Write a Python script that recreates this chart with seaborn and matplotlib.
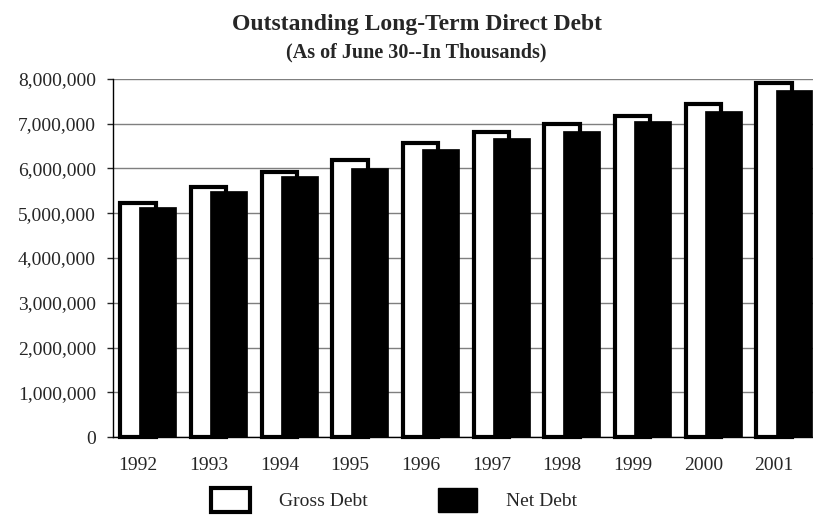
import pandas as pd
import matplotlib.pyplot as plt
import matplotlib.patheffects as pe
from matplotlib.patches import Patch
import seaborn as sns

# ===============================
# Dados
# ===============================
years = ["1992", "1993", "1994", "1995", "1996", "1997", "1998", "1999", "2000", "2001"]
gross_debt = [5230000, 5580000, 5930000, 6180000, 6580000, 6820000, 7000000, 7180000, 7450000, 7900000]
net_debt = [5130000, 5490000, 5840000, 6020000, 6440000, 6670000, 6840000, 7070000, 7290000, 7750000]

df = pd.DataFrame({"Year": years, "Gross": gross_debt, "Net": net_debt})

# ===============================
# Estilo
# ===============================
sns.set_style("white")
plt.rcParams['font.family'] = ['Liberation Serif', 'DejaVu Serif']

fig = plt.figure(figsize=(8.13, 5.23), dpi=100)
ax = fig.add_axes([0.1384, 0.1644, 0.8616, 0.6846])

# Barras brutas (contorno) e líquidas (preenchidas), sobrepostas
sns.barplot(data=df, x="Year", y="Gross", ax=ax, width=0.5, color="white",
            edgecolor="black", linewidth=3, errorbar=None, zorder=3)
n_gross = len(ax.patches)
sns.barplot(data=df, x="Year", y="Net", ax=ax, width=0.52, color="black",
            edgecolor="black", linewidth=0.5, errorbar=None, zorder=4)

for i, p in enumerate(ax.patches):
    p.set_clip_on(False)
    if i < n_gross:
        p.set_path_effects([pe.SimplePatchShadow(offset=(-1.5, -1.5), shadow_rgbFace="0.55", alpha=1),
                            pe.Normal()])
    else:
        p.set_x(p.get_x() + 0.28)

# ===============================
# Eixos
# ===============================
ax.set_ylim(0, 8000000)
ax.set_xlim(-0.36, 9.55)
ax.set_yticks(range(0, 8000001, 1000000))
ax.set_yticklabels([f"{v:,}" for v in range(0, 8000001, 1000000)])
ax.yaxis.grid(True, color="#7f7f7f", linewidth=1)
ax.set_axisbelow(True)
ax.set_xlabel("")
ax.set_ylabel("")

for s in ["top", "right"]:
    ax.spines[s].set_visible(False)
ax.spines["left"].set_color("black")
ax.spines["left"].set_linewidth(1)
ax.spines["bottom"].set_color("black")
ax.spines["bottom"].set_linewidth(1)

ax.tick_params(axis="y", left=True, length=4, width=1, labelsize=14, pad=8)
ax.tick_params(axis="x", bottom=False, labelsize=14, pad=11)

# ===============================
# Títulos e legenda
# ===============================
fig.text(0.513, 0.954, "Outstanding Long-Term Direct Debt", ha="center", va="center",
         fontsize=17, fontweight="bold")
fig.text(0.512, 0.899, "(As of June 30--In Thousands)", ha="center", va="center",
         fontsize=14.5, fontweight="bold")

handles = [Patch(facecolor="white", edgecolor="black", linewidth=3, label="Gross Debt"),
           Patch(facecolor="black", edgecolor="black", label="Net Debt")]
fig.legend(handles=handles, loc="center", bbox_to_anchor=(0.485, 0.044), ncol=2,
           frameon=False, fontsize=14, handlelength=2.0, handleheight=1.5,
           handletextpad=1.5, columnspacing=3.6)

plt.savefig("out.png", dpi=100)
